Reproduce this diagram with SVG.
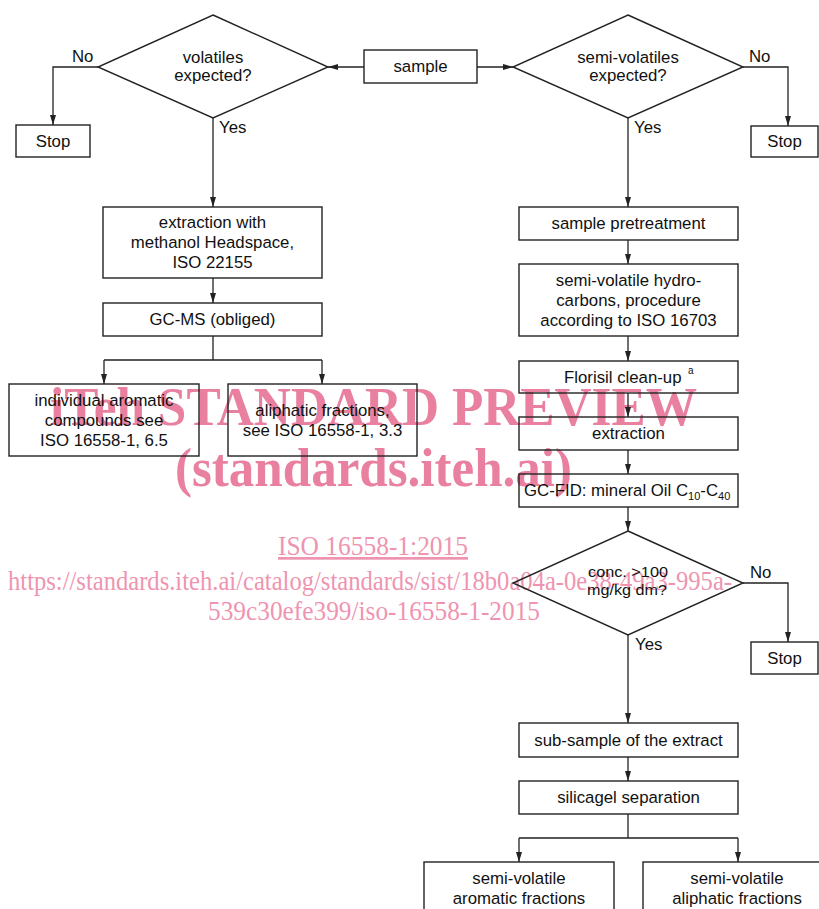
<svg xmlns="http://www.w3.org/2000/svg" width="819" height="909" viewBox="0 0 819 909">
<style>
.bx{fill:none;stroke:#222;stroke-width:1.4}
.ln{fill:none;stroke:#222;stroke-width:1.3}
.ar{fill:none;stroke:#222;stroke-width:1.3;marker-end:url(#ah)}
.t{font-family:"Liberation Sans",Arial,sans-serif;font-size:16.8px;fill:#111;text-anchor:middle}
.l{font-family:"Liberation Sans",Arial,sans-serif;font-size:16.8px;fill:#111}
.wm{font-family:"Liberation Serif","Times New Roman",serif;font-weight:bold;font-size:55px;fill:#e9809f}
.wl{font-family:"Liberation Serif","Times New Roman",serif;font-size:27px;fill:#ef94b0}
</style>
<defs>
<marker id="ah" viewBox="0 0 10 10" refX="10" refY="5" markerWidth="10" markerHeight="10" markerUnits="userSpaceOnUse" orient="auto">
<path d="M0,2 L10,5 L0,8 z" fill="#222"/>
</marker>
</defs>
<g id="watermark">
<text class="wm" x="50" y="425" textLength="647" lengthAdjust="spacingAndGlyphs">iTeh STANDARD PREVIEW</text>
<text class="wm" x="175" y="486" textLength="397" lengthAdjust="spacingAndGlyphs">(standards.iteh.ai)</text>
<text class="wl" x="278" y="555" textLength="190" lengthAdjust="spacingAndGlyphs" text-decoration="underline">ISO 16558-1:2015</text>
<text class="wl" x="8" y="590" textLength="724" lengthAdjust="spacingAndGlyphs">https://standards.iteh.ai/catalog/standards/sist/18b0a04a-0e38-49a3-995a-</text>
<text class="wl" x="208" y="620" textLength="332" lengthAdjust="spacingAndGlyphs">539c30efe399/iso-16558-1-2015</text>
</g>
<g id="connectors">
<path class="ar" d="M364,67 H328"/>
<path class="ar" d="M477,67 H513"/>
<path class="ar" d="M98,67 H53 V125"/>
<path class="ar" d="M743,67 H788 V126"/>
<path class="ar" d="M213,118 V207"/>
<path class="ar" d="M213,278 V303"/>
<path class="ln" d="M213,336 V360 M104,360 H322"/>
<path class="ar" d="M104,360 V384"/>
<path class="ar" d="M322,360 V384"/>
<path class="ar" d="M628,118 V207"/>
<path class="ar" d="M628,240 V264"/>
<path class="ar" d="M628,336 V361"/>
<path class="ar" d="M628,393 V417"/>
<path class="ar" d="M628,450 V474"/>
<path class="ar" d="M628,507 V531"/>
<path class="ar" d="M743,583 H788 V642"/>
<path class="ar" d="M628,635 V723"/>
<path class="ar" d="M628,757 V781"/>
<path class="ln" d="M628,814 V838 M519,838 H738"/>
<path class="ar" d="M519,838 V862"/>
<path class="ar" d="M738,838 V862"/>
<text class="l" x="72" y="62">No</text>
<text class="l" x="749" y="62">No</text>
<text class="l" x="219" y="133">Yes</text>
<text class="l" x="634" y="133">Yes</text>
<text class="l" x="750" y="578">No</text>
<text class="l" x="635" y="650">Yes</text>
</g>
<g id="sample"><rect class="bx" x="364" y="50" width="113" height="33"/><text class="t" x="420.5" y="72">sample</text></g>
<g id="volatiles"><path class="bx" d="M213,15 L328,67 L213,118 L98,67 z"/><text class="t" x="213" y="63">volatiles</text><text class="t" x="213" y="81">expected?</text></g>
<g id="semivolatiles"><path class="bx" d="M628,15 L743,67 L628,118 L513,67 z"/><text class="t" x="628" y="63">semi-volatiles</text><text class="t" x="628" y="81">expected?</text></g>
<g id="stop1"><rect class="bx" x="16" y="125" width="74" height="32"/><text class="t" x="53" y="147">Stop</text></g>
<g id="stop2"><rect class="bx" x="751" y="126" width="67" height="31"/><text class="t" x="784.5" y="147">Stop</text></g>
<g id="extraction-methanol"><rect class="bx" x="103" y="207" width="219" height="71"/><text class="t" x="212.5" y="228">extraction with</text><text class="t" x="212.5" y="248">methanol Headspace,</text><text class="t" x="212.5" y="268">ISO 22155</text></g>
<g id="gcms"><rect class="bx" x="103" y="303" width="219" height="33"/><text class="t" x="212.5" y="325">GC-MS (obliged)</text></g>
<g id="aromatic-compounds"><rect class="bx" x="9" y="384" width="190" height="72"/><text class="t" x="104" y="406">individual aromatic</text><text class="t" x="104" y="426">compounds see</text><text class="t" x="104" y="446">ISO 16558-1, 6.5</text></g>
<g id="aliphatic-fractions"><rect class="bx" x="228" y="384" width="189" height="72"/><text class="t" x="322.5" y="416">aliphatic fractions,</text><text class="t" x="322.5" y="436">see ISO 16558-1, 3.3</text></g>
<g id="pretreatment"><rect class="bx" x="519" y="207" width="219" height="33"/><text class="t" x="628.5" y="229">sample pretreatment</text></g>
<g id="semivolatile-hc"><rect class="bx" x="519" y="264" width="219" height="72"/><text class="t" x="628.5" y="286">semi-volatile hydro-</text><text class="t" x="628.5" y="306">carbons, procedure</text><text class="t" x="628.5" y="326">according to ISO 16703</text></g>
<g id="florisil"><rect class="bx" x="519" y="361" width="219" height="32"/><text class="l" x="564" y="383">Florisil clean-up</text><text class="l" x="688" y="374" style="font-size:10px">a</text></g>
<g id="extraction"><rect class="bx" x="519" y="417" width="219" height="33"/><text class="t" x="628.5" y="439">extraction</text></g>
<g id="gcfid"><rect class="bx" x="519" y="474" width="219" height="33"/><text class="l" x="524" y="496">GC-FID: mineral Oil C<tspan dy="4" style="font-size:11px">10</tspan><tspan dy="-4">-C</tspan><tspan dy="4" style="font-size:11px">40</tspan></text></g>
<g id="conc"><path class="bx" d="M628,531 L743,583 L628,635 L513,583 z"/><text class="t" x="628" y="577" style="font-size:15px" textLength="80" lengthAdjust="spacingAndGlyphs">conc. &gt;100</text><text class="t" x="627" y="595" style="font-size:15px" textLength="80" lengthAdjust="spacingAndGlyphs">mg/kg dm?</text></g>
<g id="stop3"><rect class="bx" x="751" y="642" width="67" height="32"/><text class="t" x="784.5" y="664">Stop</text></g>
<g id="subsample"><rect class="bx" x="519" y="723" width="219" height="34"/><text class="t" x="628.5" y="746">sub-sample of the extract</text></g>
<g id="silicagel"><rect class="bx" x="519" y="781" width="219" height="33"/><text class="t" x="628.5" y="803">silicagel separation</text></g>
<g id="sv-aromatic"><rect class="bx" x="424" y="862" width="190" height="60"/><text class="t" x="519" y="884">semi-volatile</text><text class="t" x="519" y="904">aromatic fractions</text></g>
<g id="sv-aliphatic"><rect class="bx" x="643" y="862" width="190" height="60"/><text class="t" x="737" y="884">semi-volatile</text><text class="t" x="737" y="904">aliphatic fractions</text></g>
</svg>
